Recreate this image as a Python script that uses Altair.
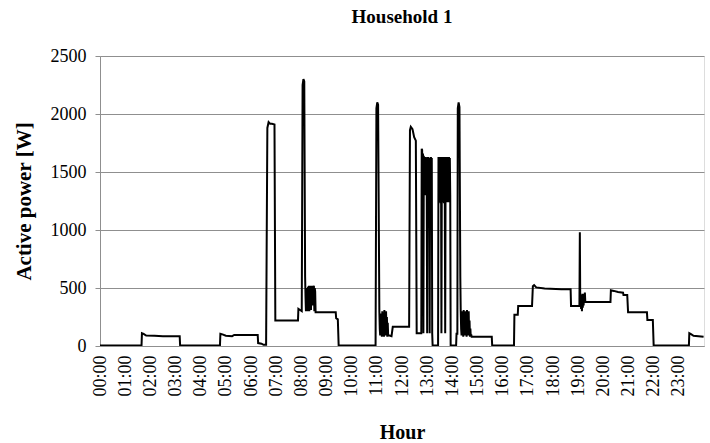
import altair as alt
import pandas as pd

# Time of day in minutes after midnight, and measured active power in W
minutes = [
    0, 99, 100, 104, 110, 130, 150, 190, 191,
    286, 287, 292, 300, 315, 320, 376, 377, 385, 390, 396,
    399, 402, 406, 410, 416, 418, 472, 473, 477, 481,
    483, 485, 487, 489, 490, 491, 492, 493, 494, 495, 496, 497, 498, 499,
    500, 501, 502, 503, 504, 505, 506, 507, 508, 509, 510, 511, 512, 513, 514,
    562, 563, 567, 569,
    657, 659, 661, 663, 666, 667, 668, 669, 670, 671, 672, 673, 674, 675,
    676, 677, 678, 679, 680, 681, 682, 683, 684, 685, 686, 687, 690, 695, 698, 737,
    739, 741, 745, 749, 753, 755, 766,
    767, 768, 769, 770, 771, 772, 773, 774, 775, 776, 777, 778, 779, 780,
    781, 782, 783, 784, 785, 786, 787, 788, 789, 790, 791, 792, 793,
    806, 807, 808, 809, 810, 811, 812, 813, 814, 815, 816, 817, 818, 819, 820,
    821, 822, 823, 824, 825, 826, 827, 828, 829, 830, 831, 832, 833, 834, 835, 836,
    849, 850, 852, 853, 855, 857, 859, 860,
    861, 862, 863, 864, 865, 866, 867, 868, 869, 870, 871, 872, 873, 874, 875,
    876, 877, 878, 879, 880, 881, 882, 883, 884, 885, 886, 934, 935,
    987, 988, 996, 997, 1030, 1032, 1035, 1040, 1060, 1100, 1122, 1123, 1143,
    1144, 1145, 1146, 1147, 1148, 1149, 1150, 1151, 1152, 1153, 1154, 1155, 1156,
    1157, 1160, 1217, 1218, 1225, 1235, 1247, 1248, 1257, 1259, 1304, 1305, 1318,
    1320, 1404, 1405, 1410, 1415, 1439,
]
power_w = [
    5, 5, 110, 105, 90, 88, 85, 85, 5,
    5, 105, 100, 88, 85, 95, 95, 25, 20, 10, 10,
    1880, 1930, 1915, 1915, 1910, 220, 220, 320, 310, 300,
    2250, 2300, 2280, 600, 420, 300, 480, 330, 500, 300, 510, 350, 520, 300,
    490, 400, 520, 310, 500, 450, 520, 350, 500, 480, 520, 300, 500, 470, 290,
    290, 240, 230, 5,
    5, 2050, 2100, 2080, 300, 150, 90, 280, 100, 250, 80, 300, 120, 90,
    260, 80, 310, 150, 280, 90, 300, 100, 250, 80, 200, 90, 90, 85, 165, 165,
    1860, 1890, 1870, 1800, 1770, 110, 110,
    1700, 1690, 1300, 1660, 110, 1640, 1300, 1630, 1310, 1630, 1300, 1620, 1320, 110,
    1630, 1300, 1630, 1300, 1620, 110, 1620, 1300, 1630, 1310, 1620, 110, 5,
    5, 1630, 1240, 1630, 1250, 1620, 1230, 1630, 110, 1620, 1240, 1630, 1250, 1620, 1230,
    1630, 1300, 110, 1630, 1240, 1620, 1250, 1630, 1240, 1620, 1250, 1630, 1240, 1620, 1300, 5,
    5, 105, 105, 2050, 2100, 2060, 600, 300,
    150, 90, 300, 100, 280, 80, 310, 120, 290, 90, 300, 100, 250, 80, 310,
    150, 280, 90, 300, 100, 220, 80, 150, 80, 100, 80, 80, 5,
    5, 270, 270, 345, 345, 515, 525, 505, 495, 490, 490, 345, 345,
    980, 350, 420, 320, 440, 300, 450, 330, 430, 350, 450, 400, 460,
    380, 380, 380, 480, 475, 465, 460, 440, 440, 290, 290, 225, 225,
    5, 5, 110, 100, 88, 80,
]
hour_ticks = list(range(0, 1440, 60))
power_ticks = [0, 500, 1000, 1500, 2000, 2500]

df = pd.DataFrame({"minute": minutes, "power": power_w})

FONT = "Liberation Serif"
GRID = "#8f8f8f"

chart = (
    alt.Chart(df)
    .mark_line(color="black", strokeWidth=2, clip=True)
    .encode(
        x=alt.X(
            "minute:Q",
            scale=alt.Scale(domain=[0, 1440], nice=False, zero=False),
            axis=alt.Axis(
                values=hour_ticks,
                labelExpr="(datum.value < 600 ? '0' : '') + floor(datum.value / 60) + ':00'",
                labelAngle=270,
                labelFont=FONT,
                labelFontSize=18,
                labelColor="black",
                labelPadding=9,
                labelFlush=False,
                labelOverlap=False,
                grid=False,
                ticks=False,
                domainColor=GRID,
                domainWidth=1,
                title="Hour",
                titleFont=FONT,
                titleFontSize=20,
                titleFontWeight="bold",
                titleColor="black",
                titlePadding=26,
            ),
        ),
        y=alt.Y(
            "power:Q",
            scale=alt.Scale(domain=[0, 2500], nice=False),
            axis=alt.Axis(
                values=power_ticks,
                format="d",
                labelFont=FONT,
                labelFontSize=18,
                labelColor="black",
                labelPadding=9,
                grid=True,
                gridColor=GRID,
                gridWidth=1,
                ticks=True,
                tickSize=5,
                tickColor=GRID,
                domainColor=GRID,
                domainWidth=1,
                title="Active power [W]",
                titleFont=FONT,
                titleFontSize=21,
                titleFontWeight="bold",
                titleColor="black",
                titlePadding=16,
            ),
        ),
    )
    .properties(
        width=604,
        height=290,
        title=alt.TitleParams(
            "Household 1",
            font=FONT,
            fontSize=19,
            fontWeight="bold",
            color="black",
            anchor="middle",
            offset=20,
        ),
        padding={"left": 100, "top": 56, "right": 6, "bottom": 97},
        autosize="none",
    )
    .configure_view(stroke=None)
    .configure(background="white")
)

chart.save("out.html", embed_options={"renderer": "svg", "actions": False})
